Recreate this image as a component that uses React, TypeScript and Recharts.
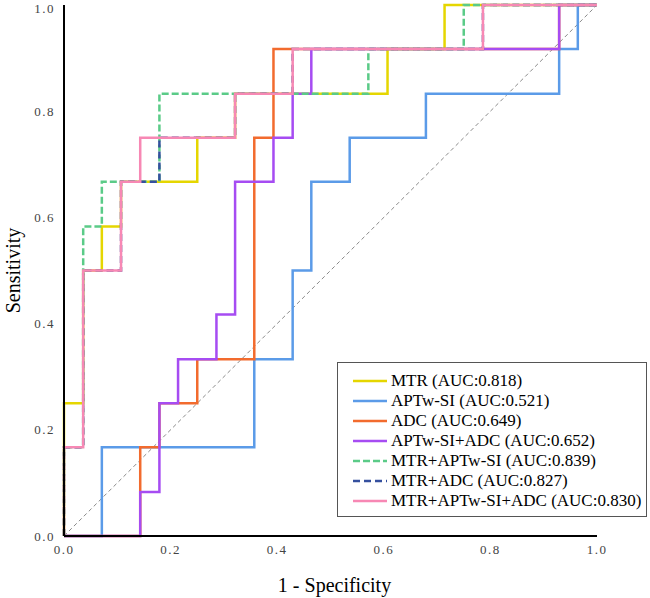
import React from "react";
import { LineChart, Line, XAxis, YAxis, Legend } from "recharts";

// ROC points as [1 - specificity, sensitivity]
const mtr = [
  [0, 0], [0, 0.167], [0, 0.25], [0.036, 0.25], [0.036, 0.5], [0.071, 0.5],
  [0.071, 0.583], [0.107, 0.583], [0.107, 0.667], [0.25, 0.667], [0.25, 0.75],
  [0.321, 0.75], [0.321, 0.833], [0.607, 0.833], [0.607, 0.917], [0.714, 0.917],
  [0.714, 1], [1, 1],
];
const aptw = [
  [0, 0], [0.071, 0], [0.071, 0.167], [0.357, 0.167], [0.357, 0.333],
  [0.429, 0.333], [0.429, 0.5], [0.464, 0.5], [0.464, 0.667], [0.536, 0.667],
  [0.536, 0.75], [0.679, 0.75], [0.679, 0.833], [0.929, 0.833], [0.929, 0.917],
  [0.964, 0.917], [0.964, 1], [1, 1],
];
const adc = [
  [0, 0], [0.143, 0], [0.143, 0.167], [0.179, 0.167], [0.179, 0.25],
  [0.25, 0.25], [0.25, 0.333], [0.357, 0.333], [0.357, 0.75], [0.393, 0.75],
  [0.393, 0.917], [0.929, 0.917], [0.929, 1], [1, 1],
];
const aptwAdc = [
  [0, 0], [0.143, 0], [0.143, 0.083], [0.179, 0.083], [0.179, 0.25],
  [0.214, 0.25], [0.214, 0.333], [0.286, 0.333], [0.286, 0.417], [0.321, 0.417],
  [0.321, 0.667], [0.393, 0.667], [0.393, 0.75], [0.429, 0.75], [0.429, 0.833],
  [0.464, 0.833], [0.464, 0.917], [0.929, 0.917], [0.929, 1], [1, 1],
];
const mtrAptw = [
  [0, 0], [0, 0.167], [0.036, 0.167], [0.036, 0.583], [0.071, 0.583],
  [0.071, 0.667], [0.179, 0.667], [0.179, 0.833], [0.571, 0.833],
  [0.571, 0.917], [0.75, 0.917], [0.75, 1], [1, 1],
];
const mtrAdc = [
  [0, 0], [0, 0.167], [0.036, 0.167], [0.036, 0.5], [0.107, 0.5],
  [0.107, 0.667], [0.179, 0.667], [0.179, 0.75], [0.321, 0.75], [0.321, 0.833],
  [0.429, 0.833], [0.429, 0.917], [0.786, 0.917], [0.786, 1], [1, 1],
];
const mtrAptwAdc = [
  [0, 0], [0, 0.167], [0.036, 0.167], [0.036, 0.5], [0.107, 0.5],
  [0.107, 0.667], [0.143, 0.667], [0.143, 0.75], [0.321, 0.75], [0.321, 0.833],
  [0.429, 0.833], [0.429, 0.917], [0.786, 0.917], [0.786, 1], [1, 1],
];
const diagonal = [[0, 0], [1, 1]];

const ticks = [0, 0.2, 0.4, 0.6, 0.8, 1];

const series = [
  { name: "MTR (AUC:0.818)", pts: mtr, color: "#E5D600", dash: undefined },
  { name: "APTw-SI (AUC:0.521)", pts: aptw, color: "#5B9BE8", dash: undefined },
  { name: "ADC (AUC:0.649)", pts: adc, color: "#F26B2E", dash: undefined },
  { name: "APTw-SI+ADC (AUC:0.652)", pts: aptwAdc, color: "#A64CF2", dash: undefined },
  { name: "MTR+APTw-SI (AUC:0.839)", pts: mtrAptw, color: "#5BCB88", dash: "7 3" },
  { name: "MTR+ADC (AUC:0.827)", pts: mtrAdc, color: "#35509E", dash: "7 4" },
  { name: "MTR+APTw-SI+ADC (AUC:0.830)", pts: mtrAptwAdc, color: "#F788B4", dash: undefined },
];

const toRows = (pts: number[][]) => pts.map(([x, y]) => ({ x, y }));

const serif = "Liberation Serif, Times New Roman, serif";
const tickStyle = { fill: "#444", fontSize: 13, fontFamily: serif, letterSpacing: 1.5 };

const YTitle = (props: any) => {
  const vb = props.viewBox;
  const cx = vb.x + 13;
  const cy = vb.y + vb.height / 2;
  return (
    <text x={cx} y={cy} transform={`rotate(-90 ${cx} ${cy})`} textAnchor="middle"
      dominantBaseline="central" fontSize={20} fontFamily={serif} fill="#000">
      Sensitivity
    </text>
  );
};

const XTitle = (props: any) => {
  const vb = props.viewBox;
  return (
    <text x={vb.x + vb.width / 2 + 4} y={vb.y + 49} textAnchor="middle"
      dominantBaseline="central" fontSize={20} fontFamily={serif} fill="#000">
      1 - Specificity
    </text>
  );
};

const LegendBox = () => (
  <div style={{ border: "1px solid #555", background: "#fff", boxSizing: "border-box",
    width: 310, height: 155, padding: "8px 0 0 15px", fontFamily: serif, fontSize: 17, color: "#000" }}>
    {series.map((s) => (
      <div key={s.name} style={{ display: "flex", alignItems: "center", height: 20, whiteSpace: "nowrap" }}>
        <svg width={34} height={6} style={{ marginRight: 4 }}>
          <line x1={0} y1={3} x2={34} y2={3} stroke={s.color} strokeWidth={2.5} strokeDasharray={s.dash} />
        </svg>
        <span>{s.name}</span>
      </div>
    ))}
  </div>
);

export default function App() {
  return (
    <div style={{ position: "absolute", left: 0, top: 0, background: "#fff" }}>
      <LineChart width={650} height={598} margin={{ top: 5, right: 53, bottom: 0, left: 0 }}>
        <XAxis dataKey="x" type="number" domain={[0, 1]} ticks={ticks} height={62}
          tickFormatter={(v: number) => v.toFixed(1)} tickLine={false} tickSize={0} tickMargin={9}
          tick={tickStyle} axisLine={{ stroke: "#000", strokeWidth: 2 }} label={<XTitle />} />
        <YAxis dataKey="y" type="number" domain={[0, 1]} ticks={ticks} width={64}
          tickFormatter={(v: number) => v.toFixed(1)} tickLine={false} tickSize={0} tickMargin={9}
          tick={tickStyle} axisLine={{ stroke: "#000", strokeWidth: 2 }} label={<YTitle />} />
        <Legend layout="vertical" align="center" verticalAlign="middle" content={<LegendBox />}
          wrapperStyle={{ left: 337, top: 362, width: 310, height: 155 }} />
        <Line data={toRows(diagonal)} dataKey="y" type="linear" stroke="#8a8a8a" strokeWidth={1}
          strokeDasharray="4 3" dot={false} activeDot={false} isAnimationActive={false} legendType="none" />
        {series.map((s) => (
          <Line key={s.name} name={s.name} data={toRows(s.pts)} dataKey="y" type="linear"
            stroke={s.color} strokeWidth={2.5} strokeDasharray={s.dash} dot={false}
            activeDot={false} isAnimationActive={false} />
        ))}
      </LineChart>
    </div>
  );
}
